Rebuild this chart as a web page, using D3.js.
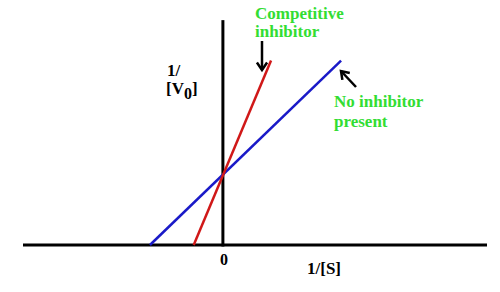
<!DOCTYPE html>
<html><head><meta charset="utf-8">
<script src="https://cdn.jsdelivr.net/npm/d3@7"></script>
<style>body{margin:0;background:#fff}svg{display:block}</style>
</head><body>
<script>
// Lineweaver-Burk plot data (x = 1/[S], y = 1/V0)
const noInhibitor = [{x:-1.0, y:0}, {x:1.62, y:2.6}];
const competitive = [{x:-0.40, y:0}, {x:0.66, y:2.6}];
const xDomain = [-2.74, 3.62];
const yDomain = [0, 3.2];
const xTickLabels = ["0"];

const W = 500, H = 292;
const svg = d3.select("body").append("svg").attr("width", W).attr("height", H);
const x = d3.scaleLinear().domain(xDomain).range([23, 487]);
const y = d3.scaleLinear().domain(yDomain).range([245, 18]);

const line = d3.line().x(d => x(d.x)).y(d => y(d.y));

// axes
svg.append("line").attr("x1", x(xDomain[0])).attr("x2", x(xDomain[1]))
  .attr("y1", y(0)).attr("y2", y(0)).attr("stroke", "#000").attr("stroke-width", 3);
svg.append("line").attr("x1", x(0)).attr("x2", x(0))
  .attr("y1", y(0) + 1.5).attr("y2", y(3.17)).attr("stroke", "#000").attr("stroke-width", 3);

// data lines
svg.append("path").datum(noInhibitor).attr("d", line).attr("fill", "none")
  .attr("stroke", "#1a1ac8").attr("stroke-width", 2.5);
svg.append("path").datum(competitive).attr("d", line).attr("fill", "none")
  .attr("stroke", "#d01818").attr("stroke-width", 2.5);

const serif = "'Liberation Serif','Times New Roman',serif";

// tick label
svg.selectAll(".tick").data(xTickLabels).enter().append("text")
  .attr("x", x(0) + 1).attr("y", 265).attr("text-anchor", "middle")
  .attr("font-family", serif).attr("font-weight", "bold").attr("font-size", 16)
  .text(d => d);

// axis titles
svg.append("text").attr("x", 307).attr("y", 274)
  .attr("font-family", serif).attr("font-weight", "bold").attr("font-size", 17)
  .text("1/[S]");
svg.append("text").attr("x", 167).attr("y", 76)
  .attr("font-family", serif).attr("font-weight", "bold").attr("font-size", 17)
  .text("1/");
const yt = svg.append("text").attr("x", 166).attr("y", 94)
  .attr("font-family", serif).attr("font-weight", "bold").attr("font-size", 17);
yt.append("tspan").text("[V");
yt.append("tspan").attr("dy", 5).attr("font-size", 16).text("0");
yt.append("tspan").attr("dy", -5).text("]");

// annotations
const green = "#33dd33";
svg.append("text").attr("x", 255).attr("y", 19).attr("fill", green)
  .attr("font-family", serif).attr("font-weight", "bold").attr("font-size", 17)
  .text("Competitive");
svg.append("text").attr("x", 255).attr("y", 37).attr("fill", green)
  .attr("font-family", serif).attr("font-weight", "bold").attr("font-size", 17)
  .text("inhibitor");
svg.append("text").attr("x", 334).attr("y", 107).attr("fill", green)
  .attr("font-family", serif).attr("font-weight", "bold").attr("font-size", 17)
  .text("No inhibitor");
svg.append("text").attr("x", 334).attr("y", 127).attr("fill", green)
  .attr("font-family", serif).attr("font-weight", "bold").attr("font-size", 17)
  .text("present");

// arrows
function arrow(x1, y1, x2, y2) {
  svg.append("line").attr("x1", x1).attr("y1", y1).attr("x2", x2).attr("y2", y2)
    .attr("stroke", "#000").attr("stroke-width", 2.5);
  const a = Math.atan2(y2 - y1, x2 - x1), L = 9, s = 0.6;
  const p = [[x2 - L*Math.cos(a - s), y2 - L*Math.sin(a - s)], [x2, y2],
             [x2 - L*Math.cos(a + s), y2 - L*Math.sin(a + s)]];
  svg.append("path").attr("d", d3.line()(p)).attr("fill", "none")
    .attr("stroke", "#000").attr("stroke-width", 2.5);
}
arrow(262, 41, 262, 70);
arrow(356, 87, 341, 71);
</script>
</body></html>
